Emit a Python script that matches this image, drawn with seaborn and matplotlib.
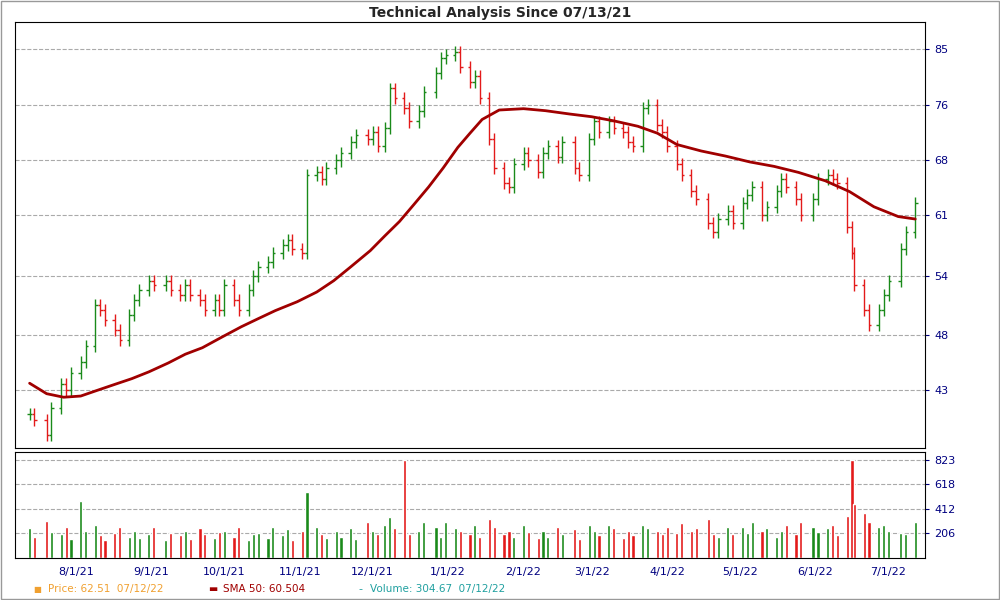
import pandas as pd
import numpy as np
import matplotlib.pyplot as plt
import matplotlib.dates as mdates
import seaborn as sns

sns.set_style('white')
plt.rcParams['font.family'] = ['DejaVu Sans']

# closes (roughly every 2-3 trading days)
dates = ['2021-07-13','2021-07-15','2021-07-20','2021-07-22','2021-07-26','2021-07-28','2021-07-30',
         '2021-08-03','2021-08-05','2021-08-09','2021-08-11','2021-08-13','2021-08-17','2021-08-19',
         '2021-08-23','2021-08-25','2021-08-27','2021-08-31','2021-09-02','2021-09-07','2021-09-09',
         '2021-09-13','2021-09-15','2021-09-17','2021-09-21','2021-09-23','2021-09-27','2021-09-29',
         '2021-10-01','2021-10-05','2021-10-07','2021-10-11','2021-10-13','2021-10-15','2021-10-19',
         '2021-10-21','2021-10-25','2021-10-27','2021-10-29','2021-11-02','2021-11-04','2021-11-08',
         '2021-11-10','2021-11-12','2021-11-16','2021-11-18','2021-11-22','2021-11-24','2021-11-29',
         '2021-12-01','2021-12-03','2021-12-06','2021-12-08','2021-12-10','2021-12-14','2021-12-16',
         '2021-12-20','2021-12-22','2021-12-27','2021-12-29','2021-12-31','2022-01-04','2022-01-06',
         '2022-01-10','2022-01-12','2022-01-14','2022-01-18','2022-01-20','2022-01-24','2022-01-26',
         '2022-01-28','2022-02-01','2022-02-03','2022-02-07','2022-02-09','2022-02-11','2022-02-15',
         '2022-02-17','2022-02-22','2022-02-24','2022-02-28','2022-03-02','2022-03-04','2022-03-08',
         '2022-03-10','2022-03-14','2022-03-16','2022-03-18','2022-03-22','2022-03-24','2022-03-28',
         '2022-03-30','2022-04-01','2022-04-05','2022-04-07','2022-04-11','2022-04-13','2022-04-18',
         '2022-04-20','2022-04-22','2022-04-26','2022-04-28','2022-05-02','2022-05-04','2022-05-06',
         '2022-05-10','2022-05-12','2022-05-16','2022-05-18','2022-05-20','2022-05-24','2022-05-26',
         '2022-05-31','2022-06-02','2022-06-06','2022-06-08','2022-06-10','2022-06-14','2022-06-16',
         '2022-06-17','2022-06-21','2022-06-23','2022-06-27','2022-06-29','2022-07-01','2022-07-06',
         '2022-07-08','2022-07-12']
closes = [41.0, 40.5, 39.3, 41.5, 43.5, 43.0, 44.5,
          45.5, 47.0, 51.0, 50.5, 49.5, 48.5, 47.5,
          50.0, 51.5, 52.5, 53.5, 53.0, 53.5, 52.5,
          52.0, 53.0, 52.0, 51.5, 50.5, 51.5, 50.5,
          53.0, 51.5, 50.5, 52.5, 54.0, 55.0, 55.5,
          56.5, 57.5, 58.0, 57.0, 56.5, 66.0, 66.5,
          65.5, 67.0, 68.0, 69.0, 70.5, 71.5, 71.0,
          72.0, 70.0, 72.5, 78.5, 77.0, 75.5, 73.5,
          75.0, 78.0, 81.0, 83.5, 84.0, 84.5, 82.0,
          79.5, 80.5, 77.0, 71.0, 67.0, 65.0, 64.5,
          67.5, 69.0, 68.0, 66.5, 69.0, 70.0, 68.5,
          70.5, 67.0, 66.0, 71.0, 73.5, 72.0, 73.5,
          72.5, 72.0, 70.5, 70.0, 75.5, 76.0, 73.0,
          72.0, 70.0, 67.5, 66.0, 64.0, 63.0, 60.0,
          59.0, 60.5, 61.5, 60.0, 62.5, 63.5, 64.5,
          61.0, 62.0, 64.0, 65.5, 64.5, 63.0, 61.0,
          63.0, 65.5, 66.0, 65.5, 65.0, 59.5, 56.5,
          53.0, 50.5, 49.0, 50.5, 52.0, 53.5, 57.0,
          59.0, 62.51]
volumes = [250, 180, 310, 220, 200, 260, 160,
           480, 230, 280, 190, 150, 210, 260,
           180, 230, 170, 200, 260, 150, 210,
           190, 230, 160, 250, 200, 170, 220,
           230, 180, 260, 150, 200, 210, 170,
           260, 190, 240, 150, 230, 550, 260,
           200, 170, 230, 180, 250, 160, 300,
           230, 200, 280, 340, 250, 823, 200,
           230, 300, 260, 180, 300, 250, 230,
           200, 280, 180, 330, 260, 200, 230,
           180, 280, 220, 170, 230, 180, 260,
           200, 240, 160, 280, 230, 190, 280,
           250, 170, 230, 190, 280, 250, 230,
           200, 260, 210, 290, 230, 250, 330,
           200, 180, 260, 200, 260, 210, 300,
           230, 250, 180, 230, 280, 200, 300,
           260, 220, 250, 280, 190, 350, 820,
           450, 380, 300, 260, 280, 230, 210,
           200, 305]

sma_dates = ['2021-07-13','2021-07-20','2021-07-27','2021-08-03','2021-08-10','2021-08-17','2021-08-24',
             '2021-08-31','2021-09-08','2021-09-15','2021-09-22','2021-09-30','2021-10-08','2021-10-15',
             '2021-10-22','2021-10-31','2021-11-08','2021-11-15','2021-11-22','2021-11-30','2021-12-06',
             '2021-12-12','2021-12-18','2021-12-24','2021-12-30','2022-01-05','2022-01-10','2022-01-15',
             '2022-01-22','2022-02-01','2022-02-10','2022-02-20','2022-03-01','2022-03-10','2022-03-20',
             '2022-03-28','2022-04-05','2022-04-15','2022-04-25','2022-05-05','2022-05-15','2022-05-25',
             '2022-06-05','2022-06-15','2022-06-25','2022-07-05','2022-07-12']
sma_vals = [43.6, 42.7, 42.4, 42.5, 43.0, 43.5, 44.0,
            44.6, 45.4, 46.2, 46.8, 47.8, 48.8, 49.6,
            50.4, 51.3, 52.3, 53.5, 55.0, 56.8, 58.5,
            60.2, 62.3, 64.5, 67.0, 69.8, 71.8, 73.8,
            75.2, 75.4, 75.1, 74.6, 74.2, 73.6, 72.8,
            71.8, 70.2, 69.3, 68.6, 67.8, 67.2, 66.4,
            65.3, 63.9, 62.0, 60.8, 60.5]

df = pd.DataFrame({'date': pd.to_datetime(dates), 'close': closes, 'vol': volumes})
df['open'] = df['close'].shift(1).fillna(df['close'])
df['up'] = df['close'] >= df['open']
df['hi'] = df[['open', 'close']].max(axis=1) * 1.012
df['lo'] = df[['open', 'close']].min(axis=1) * 0.988
df['color'] = np.where(df['up'], '#1a8a1a', '#e31a1a')

fig = plt.figure(figsize=(10, 6), dpi=100)
ax = fig.add_axes([0.015, 0.253, 0.91, 0.71])
axv = fig.add_axes([0.015, 0.07, 0.91, 0.177], sharex=ax)

tick = pd.Timedelta(days=1)
for _, r in df.iterrows():
    ax.vlines(r['date'], r['lo'], r['hi'], color=r['color'], lw=1)
    ax.hlines(r['open'], r['date'] - tick, r['date'], color=r['color'], lw=1)
    ax.hlines(r['close'], r['date'], r['date'] + tick, color=r['color'], lw=1)

sns.lineplot(x=pd.to_datetime(sma_dates), y=sma_vals, ax=ax, color='#a00000', lw=2)

ax.set_yscale('log')
ax.set_ylim(38.3, 89.6)
pticks = [43, 48, 54, 61, 68, 76, 85]
ax.set_yticks(pticks)
ax.set_yticklabels([str(t) for t in pticks])
ax.minorticks_off()
ax.yaxis.tick_right()
ax.tick_params(axis='y', labelsize=8, colors='#000080', length=3, right=True)
ax.grid(axis='y', ls='--', color='#aaaaaa', lw=0.8)
ax.set_xlim(pd.Timestamp('2021-07-07'), pd.Timestamp('2022-07-16'))
ax.tick_params(axis='x', labelbottom=False)

axv.bar(df['date'], df['vol'], color=df['color'], width=1.3)
axv.set_ylim(0, 890)
vticks = [206, 412, 618, 823]
axv.set_yticks(vticks)
axv.yaxis.tick_right()
axv.tick_params(axis='y', labelsize=8, colors='#000080', length=3, right=True)
axv.grid(axis='y', ls='--', color='#aaaaaa', lw=0.8)
axv.xaxis.set_major_locator(mdates.MonthLocator())
axv.xaxis.set_major_formatter(mdates.DateFormatter('%-m/%-d/%y'))
axv.tick_params(axis='x', labelsize=8, colors='#000080', length=3)

for a in (ax, axv):
    for s in a.spines.values():
        s.set_color('black')
        s.set_linewidth(0.8)
    a.set_xlabel('')
    a.set_ylabel('')

fig.suptitle('Technical Analysis Since 07/13/21', y=0.99, fontsize=10, fontweight='bold')
fig.text(0.033, 0.018, '■', color='#f0a030', fontsize=6, va='center')
fig.text(0.048, 0.018, 'Price: 62.51  07/12/22', color='#f0a030', fontsize=7.5, va='center')
fig.text(0.208, 0.018, '▬', color='#a00000', fontsize=7, va='center')
fig.text(0.223, 0.018, 'SMA 50: 60.504', color='#a00000', fontsize=7.5, va='center')
fig.text(0.358, 0.018, '-', color='#20a0a0', fontsize=8, va='center')
fig.text(0.370, 0.018, 'Volume: 304.67  07/12/22', color='#20a0a0', fontsize=7.5, va='center')
fig.patches.append(plt.Rectangle((0.001, 0.001), 0.998, 0.998, transform=fig.transFigure,
                                 fill=False, edgecolor='#999999', lw=1))
fig.savefig('out.png', dpi=100)
